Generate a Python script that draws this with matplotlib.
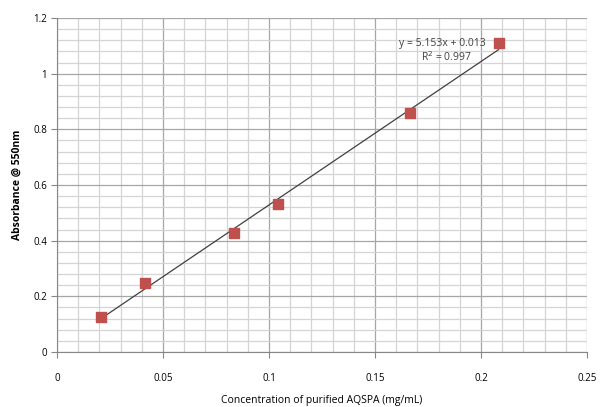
import numpy as np
import matplotlib.pyplot as plt
from matplotlib.ticker import MultipleLocator

plt.rcParams['font.family'] = ['Open Sans', 'DejaVu Sans']

conc = [0.0208, 0.0417, 0.0833, 0.1042, 0.1667, 0.2083]
absorb = [0.126, 0.248, 0.428, 0.532, 0.859, 1.110]
slope = 5.153
intercept = 0.013
eq_text = 'y = 5.153x + 0.013'
r2_text = 'R$^2$ = 0.997'

fig = plt.figure(figsize=(6, 4.07), dpi=100)
ax = fig.add_axes([57 / 600, 1 - 352 / 407, 530 / 600, 334 / 407])

ax.set_xlim(0, 0.25)
ax.set_ylim(0, 1.2)
ax.xaxis.set_major_locator(MultipleLocator(0.05))
ax.xaxis.set_minor_locator(MultipleLocator(0.01))
ax.yaxis.set_major_locator(MultipleLocator(0.2))
ax.yaxis.set_minor_locator(MultipleLocator(0.04))
ax.grid(which='major', color='#a6a6a6', linewidth=0.9)
ax.grid(which='minor', color='#d4d4d4', linewidth=0.9)
ax.set_axisbelow(True)

for side in ['top', 'right']:
    ax.spines[side].set_visible(False)
ax.spines['left'].set_color('#868686')
ax.spines['bottom'].set_color('#868686')

ax.tick_params(which='major', length=4, color='#868686', labelsize=7, pad=3)
ax.tick_params(which='minor', length=0)
ax.tick_params(axis='x', pad=11)
ax.set_xticks([0, 0.05, 0.1, 0.15, 0.2, 0.25])
ax.set_xticklabels(['0', '0.05', '0.1', '0.15', '0.2', '0.25'])
ax.set_yticks([0, 0.2, 0.4, 0.6, 0.8, 1.0, 1.2])
ax.set_yticklabels(['0', '0.2', '0.4', '0.6', '0.8', '1', '1.2'])

# trendline
xs = np.array([min(conc), max(conc)])
ax.plot(xs, slope * xs + intercept, color='#404040', linewidth=0.9, zorder=3)
ax.scatter(conc, absorb, marker='s', s=55, color='#c0504d', zorder=4,
           edgecolors='#c0504d')

ax.text(0.1615, 1.11, eq_text, fontsize=7.5, color='#404040', va='center')
ax.text(0.1715, 1.06, r2_text, fontsize=7.5, color='#404040', va='center')

ax.set_xlabel('Concentration of purified AQSPA (mg/mL)', fontsize=7.5, labelpad=8)
ax.set_ylabel('Absorbance @ 550nm', fontsize=7.5, fontweight='bold', labelpad=8)

fig.savefig('out.png', dpi=100)
